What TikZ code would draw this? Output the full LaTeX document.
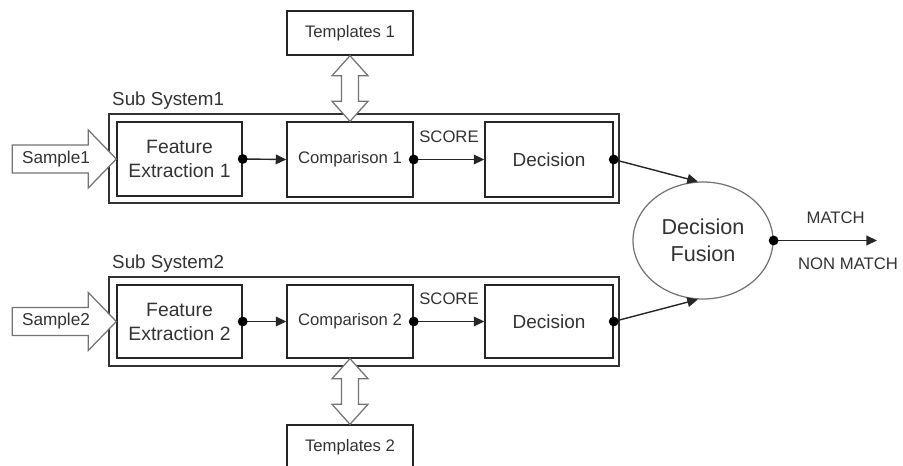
\documentclass[tikz,border=0pt]{standalone}
\usepackage{fontspec}
\setmainfont{Liberation Sans}
\usetikzlibrary{shapes.geometric,arrows.meta,calc}

\tikzset{
	block/.style={draw=black!85, line width=0.8pt, inner sep=0pt, minimum width=2.52cm, minimum height=1.5cm, align=center, text=black!80},
	subsys/.style={draw=black!80, line width=0.8pt, inner sep=0pt, minimum width=10.2cm, minimum height=1.78cm},
	flow/.style={draw=black!85, line width=0.8pt, -{Triangle[length=6pt,width=5.5pt]}},
	hollow/.style={draw=black!55, fill=white, line width=0.7pt},
	lbl/.style={text=black!80, inner sep=0pt}
}

\begin{document}
\begin{tikzpicture}[x=0.02cm,y=-0.02cm,font=\fontsize{9.5}{11}\selectfont]

	\useasboundingbox (0,0) rectangle (903,466);

	%sub systems
	\node[subsys, label={[anchor=south west, lbl, inner sep=2pt, font=\fontsize{10.7}{12}\selectfont]north west:Sub System1}] (sub1) at (364,158.5) {}; %sub system 1
	\node[subsys, label={[anchor=south west, lbl, inner sep=2pt, font=\fontsize{10.7}{12}\selectfont]north west:Sub System2}] (sub2) at (364,321.5) {}; %sub system 2

	%blocks
	\node[block, minimum width=2.5cm, minimum height=1.48cm, font=\fontsize{11}{13.6}\selectfont] (fe1) at (179.5,159) {Feature\\Extraction 1};
	\node[block] (cmp1) at (350,159.5) {Comparison 1};
	\node[block, minimum width=2.56cm, font=\fontsize{10.8}{13}\selectfont] (dec1) at (549,159.5) {Decision};
	\node[block, minimum height=0.88cm] (tpl1) at (350,33) {Templates 1};

	\node[block, minimum width=2.5cm, minimum height=1.46cm, font=\fontsize{11}{13.6}\selectfont] (fe2) at (179.5,321.5) {Feature\\Extraction 2};
	\node[block, minimum height=1.46cm] (cmp2) at (350,321.5) {Comparison 2};
	\node[block, minimum width=2.56cm, minimum height=1.46cm, font=\fontsize{10.8}{13}\selectfont] (dec2) at (549,321.5) {Decision};
	\node[block, minimum height=0.9cm] (tpl2) at (350,447.5) {Templates 2};

	\node[ellipse, draw=black!55, line width=0.7pt, minimum width=2.8cm, minimum height=2.34cm, align=center, text=black!80, font=\fontsize{12.3}{15.3}\selectfont] (fusion) at (703,240.5) {Decision\\Fusion}; %fusion
	\coordinate (out) at (877,240.5);

	%hollow arrows
	\draw[hollow] (fe1.west) -- ++(-28,-29) -- ++(0,15) -- ++(-76,0) -- ++(0,28) -- ++(76,0) -- ++(0,15) -- cycle; %sample 1
	\draw[hollow] (fe2.west) -- ++(-28,-29) -- ++(0,15) -- ++(-76,0) -- ++(0,28) -- ++(76,0) -- ++(0,15) -- cycle; %sample 2
	\node[lbl, font=\fontsize{9.8}{11}\selectfont] (smp1) at (56,159) {Sample1};
	\node[lbl, font=\fontsize{9.8}{11}\selectfont] (smp2) at (56,321.5) {Sample2};

	\draw[hollow] (tpl1.south) -- ++(18,20) -- ++(-9.5,0) -- ($(cmp1.north)+(8.5,-20)$) -- ++(9.5,0) -- (cmp1.north) -- ++(-18,-20) -- ++(9.5,0) -- ($(tpl1.south)+(-8.5,20)$) -- ++(-9.5,0) -- cycle; %templates 1
	\draw[hollow] (cmp2.south) -- ++(18,20) -- ++(-9.5,0) -- ($(tpl2.north)+(8.5,-20)$) -- ++(9.5,0) -- (tpl2.north) -- ++(-18,-20) -- ++(9.5,0) -- ($(cmp2.south)+(-8.5,20)$) -- ++(-9.5,0) -- cycle; %templates 2

	%flow arrows
	\draw[flow] (fe1.east) -- (cmp1.west);
	\draw[flow] (cmp1.east) -- node[lbl, above=9pt] (score1) {SCORE} (dec1.west);
	\draw[flow] (dec1.east) -- (fusion.95);
	\draw[flow] (fe2.east) -- (cmp2.west);
	\draw[flow] (cmp2.east) -- node[lbl, above=9pt] (score2) {SCORE} (dec2.west);
	\draw[flow] (dec2.east) -- (fusion.265);
	\draw[flow] (fusion.east) -- node[lbl, pos=0.6, above=9.4pt] (match) {MATCH} node[lbl, pos=0.72, below=9.4pt] (nomatch) {NON MATCH} (out);

	%dots
	\foreach \n in {fe1,cmp1,dec1,fe2,cmp2,dec2,fusion}
		\fill[black] (\n.east) circle (2.8pt);
\end{tikzpicture}
\end{document}
